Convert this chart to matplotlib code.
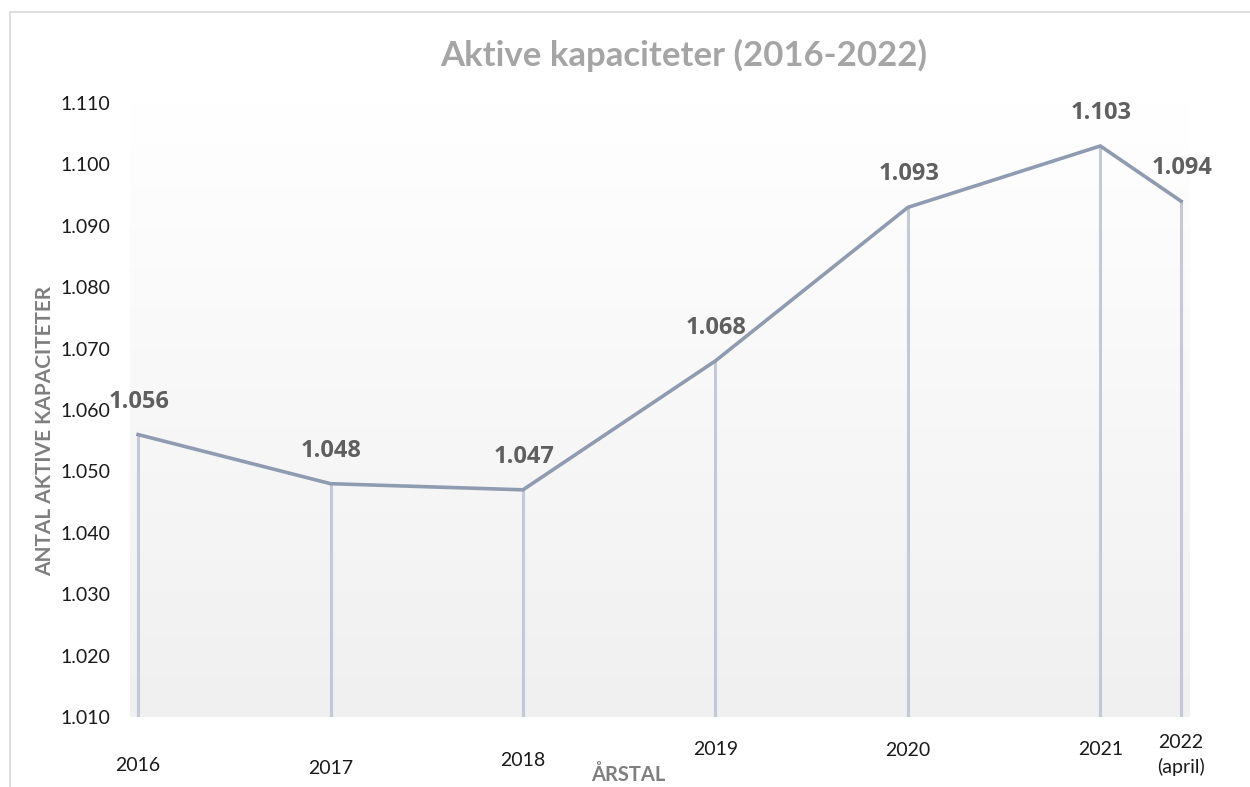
import numpy as np
import matplotlib
matplotlib.use("Agg")
import matplotlib.pyplot as plt
from matplotlib.patches import Rectangle

# data (thousands, Danish formatting 1.056 = 1056)
years = ["2016", "2017", "2018", "2019", "2020", "2021", "2022\n(april)"]
x_pos = [2016, 2017, 2018, 2019, 2020, 2021, 2021.42]
values = [1056, 1048, 1047, 1068, 1093, 1103, 1094]
y_ticks = [1010, 1020, 1030, 1040, 1050, 1060, 1070, 1080, 1090, 1100, 1110]

# per-label vertical offsets (px below axis) as in the original layout
xlabel_drop = [49, 52, 44, 33, 34, 33, 38]

LINE = "#8F9BB0"
DROP = "#C3CAD5"
LABEL = "#5F5F5F"
TITLE = "#A5A5A5"


def fmt(v):
    return f"{v:,}".replace(",", ".")


plt.rcParams["font.family"] = ["Lato", "DejaVu Sans"]

fig = plt.figure(figsize=(12.5, 7.87), dpi=100)
ax = fig.add_axes([130 / 1250, 1 - 717 / 787, 1060 / 1250, 614 / 787])

# outer frame like the source image
fig.patches.append(Rectangle((10 / 1250, -0.1), 1.2, 1 - 12 / 787 + 0.1,
                             transform=fig.transFigure, fill=False,
                             edgecolor="#D9D9D9", linewidth=1.2))

# vertical gradient: white on top -> light gray at bottom
grad = np.linspace(1.0, 240 / 255, 256).reshape(-1, 1)
ax.imshow(np.dstack([grad, grad, grad]), extent=[0, 1, 0, 1],
          transform=ax.transAxes, aspect="auto", zorder=0)

ax.set_xlim(2015.958, 2021.466)
ax.set_ylim(1010, 1110)

ax.vlines(x_pos, 1010, values, colors=DROP, linewidth=2.2, zorder=2)
ax.plot(x_pos, values, color=LINE, linewidth=2.6, zorder=3,
        solid_joinstyle="miter")

for x, v in zip(x_pos, values):
    ax.annotate(fmt(v), (x, v), textcoords="offset pixels",
                xytext=(1, 33), ha="center", va="center",
                fontsize=17, fontweight="bold", color=LABEL,
                family=["Open Sans", "DejaVu Sans"])

for s in ax.spines.values():
    s.set_visible(False)

ax.set_yticks(y_ticks)
ax.set_yticklabels([fmt(t) for t in y_ticks], fontsize=14, color="#1A1A1A")
ax.tick_params(axis="y", length=0, pad=14)
ax.set_xticks([])

for x, lab, d in zip(x_pos, years, xlabel_drop):
    ax.annotate(lab, (x, 1010), textcoords="offset pixels", xytext=(0, -d),
                ha="center", va="center", fontsize=14, color="#1A1A1A",
                linespacing=1.4, annotation_clip=False)

fig.text(684 / 1250, 1 - 55 / 787, "Aktive kapaciteter (2016-2022)",
         ha="center", va="center", fontsize=25, fontweight="bold", color=TITLE)
fig.text(45 / 1250, 1 - 431 / 787, "ANTAL AKTIVE KAPACITETER", rotation=90,
         ha="center", va="center", fontsize=15, fontweight="bold", color="#7F7F7F")
fig.text(628 / 1250, 1 - 775 / 787, "ÅRSTAL", ha="center", va="center",
         fontsize=14.5, fontweight="bold", color="#7F7F7F")

fig.savefig("out.png", dpi=100)
plt.close(fig)
